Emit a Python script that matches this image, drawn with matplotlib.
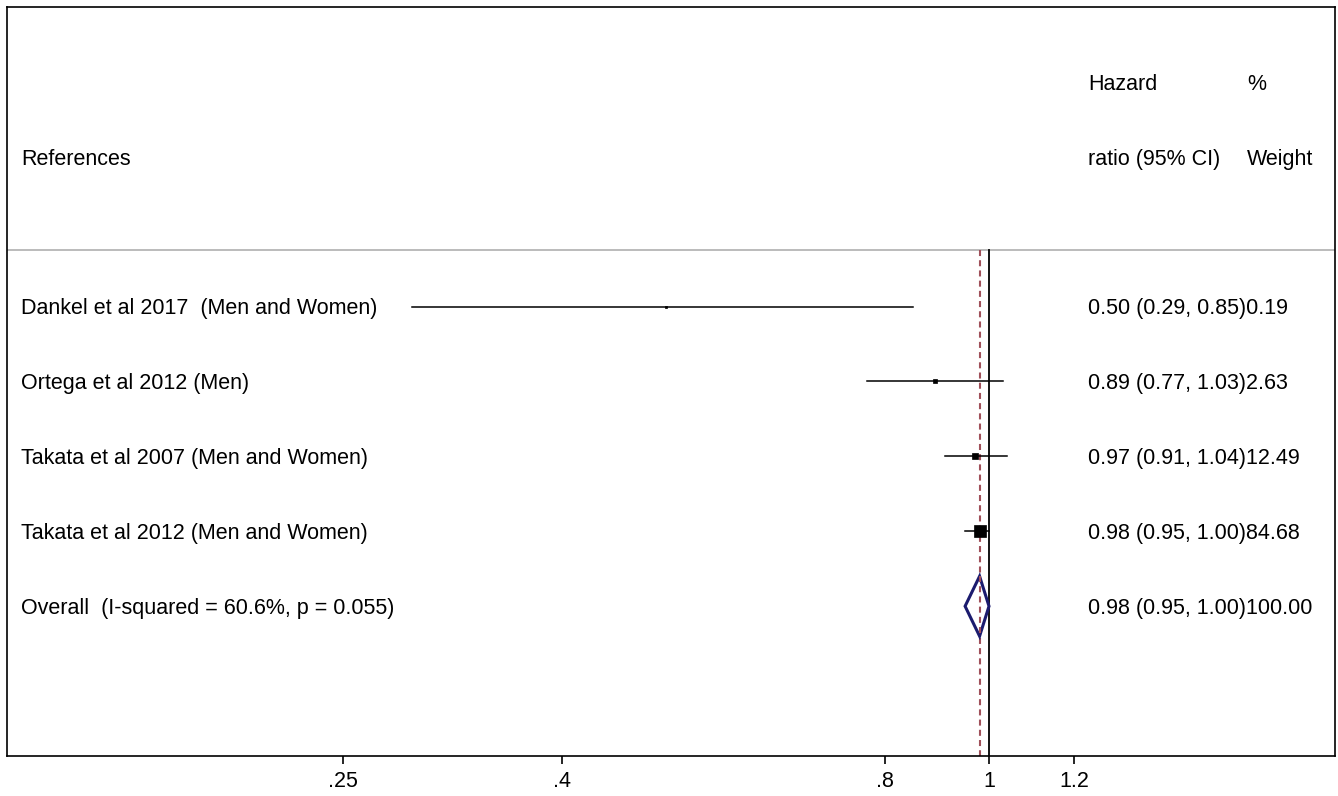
import numpy as np
import matplotlib
matplotlib.use('Agg')
import matplotlib.pyplot as plt
from matplotlib.transforms import blended_transform_factory
from matplotlib.ticker import FixedLocator, FixedFormatter, NullLocator

plt.rcParams['font.family'] = ['Liberation Sans', 'DejaVu Sans']

# study data
studies = ['Dankel et al 2017  (Men and Women)',
           'Ortega et al 2012 (Men)',
           'Takata et al 2007 (Men and Women)',
           'Takata et al 2012 (Men and Women)']
hr = [0.50, 0.89, 0.97, 0.98]
lo = [0.29, 0.77, 0.91, 0.95]
hi = [0.85, 1.03, 1.04, 1.00]
weight = [0.19, 2.63, 12.49, 84.68]

overall_label = 'Overall  (I-squared = 60.6%, p = 0.055)'
overall_hr, overall_lo, overall_hi, overall_w = 0.98, 0.95, 1.00, 100.00

tick_vals = [0.25, 0.4, 0.8, 1, 1.2]
tick_labels = ['.25', '.4', '.8', '1', '1.2']

fig = plt.figure(figsize=(13.38, 7.96), dpi=100)
W, H = 1338, 796
ax = fig.add_axes([7 / W, (H - 756) / H, 1328 / W, 749 / H])
ax.set_xscale('log')
ax.set_xlim(np.exp((7 - 989) / 466), np.exp((1335 - 989) / 466))
ax.set_ylim(6, -4)

for s in ax.spines.values():
    s.set_linewidth(1.2)
    s.set_color('black')

ax.xaxis.set_major_locator(FixedLocator(tick_vals))
ax.xaxis.set_major_formatter(FixedFormatter(tick_labels))
ax.xaxis.set_minor_locator(NullLocator())
ax.tick_params(axis='x', direction='out', length=6, width=1.2, labelsize=15.5, pad=5)
ax.set_yticks([])

fs = 15.5
sep_y = -0.76
tr = blended_transform_factory(ax.transAxes, ax.transData)
dash_col = '#a0505a'
dash = (0, (2.9, 2.0))

# header
ax.axhline(sep_y, color='#b5b5b5', lw=1.3)
ax.text(0.0105, -1.97, 'References', transform=tr, fontsize=fs, va='center')
ax.text(0.814, -2.97, 'Hazard', transform=tr, fontsize=fs, va='center')
ax.text(0.814, -1.97, 'ratio (95% CI)', transform=tr, fontsize=fs, va='center')
ax.text(0.934, -2.97, '%', transform=tr, fontsize=fs, va='center')
ax.text(0.934, -1.97, 'Weight', transform=tr, fontsize=fs, va='center')

# reference lines
ax.plot([1, 1], [sep_y, 6], color='black', lw=1.3, zorder=2)
ax.plot([overall_hr, overall_hr], [sep_y, 6], color=dash_col, lw=1.5,
        ls=dash, zorder=2)

# studies
for i, name in enumerate(studies):
    ax.plot([lo[i], hi[i]], [i, i], color='black', lw=1.1, zorder=3)
    side = (2.5 + 9 * np.sqrt(weight[i] / max(weight))) * 0.72
    ax.plot(hr[i], i, marker='s', ms=side, color='black', mew=0.5, zorder=4)
    ax.text(0.0105, i + 0.03, name, transform=tr, fontsize=fs, va='center')
    ax.text(0.814, i + 0.03, f'{hr[i]:.2f} ({lo[i]:.2f}, {hi[i]:.2f}){weight[i]:.2f}',
            transform=tr, fontsize=fs, va='center')

# overall diamond
k = len(studies)
dx = [overall_lo, overall_hr, overall_hi, overall_hr, overall_lo]
dy = [k, k - 0.4, k, k + 0.4, k]
ax.fill(dx, dy, facecolor='white', edgecolor='#1b1b6e', lw=2.2, zorder=5)
ax.plot([overall_hr, overall_hr], [k - 0.4, k + 0.4], color=dash_col, lw=1.5,
        ls=dash, zorder=6)
ax.text(0.0105, k + 0.03, overall_label, transform=tr, fontsize=fs, va='center')
ax.text(0.814, k + 0.03, f'{overall_hr:.2f} ({overall_lo:.2f}, {overall_hi:.2f}){overall_w:.2f}',
        transform=tr, fontsize=fs, va='center')

fig.savefig('out.png', dpi=100, facecolor='white')
